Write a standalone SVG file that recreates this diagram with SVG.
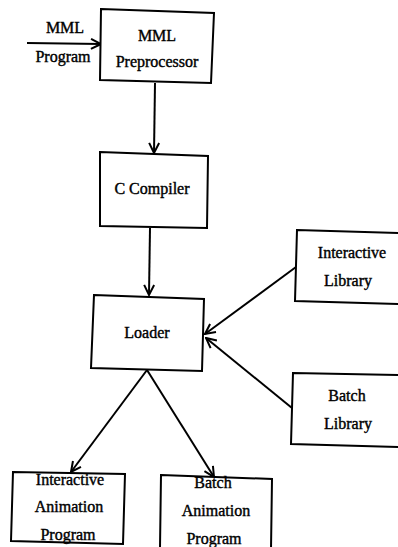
<svg xmlns="http://www.w3.org/2000/svg" width="398" height="547" viewBox="0 0 398 547">
<style>
.box{fill:#fff;stroke:#000;stroke-width:2}
.t{font-family:"Liberation Serif","Times New Roman",serif;font-size:16px;fill:#000;stroke:#000;stroke-width:0.4;text-anchor:middle}
.c{stroke:#000;stroke-width:2;fill:none;marker-end:url(#ah)}
</style>
<defs>
<marker id="ah" viewBox="0 0 12 12" refX="11" refY="6" markerWidth="12" markerHeight="12" markerUnits="userSpaceOnUse" orient="auto">
<path d="M1,1 L11,6 L1,11" fill="none" stroke="#000" stroke-width="2"/>
</marker>
</defs>
<rect width="398" height="547" fill="#fff"/>
<g id="connectors">
<line class="c" x1="27" y1="43" x2="101" y2="44"/>
<line class="c" x1="155" y1="83" x2="154" y2="153"/>
<line class="c" x1="150" y1="228" x2="149" y2="295"/>
<line class="c" x1="296" y1="267" x2="205" y2="334"/>
<line class="c" x1="292" y1="408" x2="206" y2="338"/>
<line class="c" x1="147" y1="370" x2="71" y2="472"/>
<line class="c" x1="147" y1="370" x2="214" y2="477"/>
</g>
<g id="input-label">
<text class="t" x="65" y="33">MML</text>
<text class="t" x="63" y="62">Program</text>
</g>
<g id="mml-preprocessor">
<polygon class="box" points="101,9 214,13 211,83 100,80"/>
<text class="t" x="157" y="41">MML</text>
<text class="t" x="157" y="67">Preprocessor</text>
</g>
<g id="c-compiler">
<polygon class="box" points="100,152 208,156 207,228 100,226"/>
<text class="t" x="152" y="194">C Compiler</text>
</g>
<g id="loader">
<polygon class="box" points="94,295 204,299 202,371 91,368"/>
<text class="t" x="147" y="338">Loader</text>
</g>
<g id="interactive-library">
<polygon class="box" points="297,230 400,233 400,304 295,301"/>
<text class="t" x="352" y="258">Interactive</text>
<text class="t" x="348" y="286">Library</text>
</g>
<g id="batch-library">
<polygon class="box" points="293,373 400,375 400,447 291,444"/>
<text class="t" x="347" y="401">Batch</text>
<text class="t" x="348" y="429">Library</text>
</g>
<g id="interactive-animation">
<polygon class="box" points="13,472 125,474 123,544 11,541"/>
<text class="t" x="70" y="485">Interactive</text>
<text class="t" x="69" y="512">Animation</text>
<text class="t" x="68" y="540">Program</text>
</g>
<g id="batch-animation">
<polygon class="box" points="161,475 272,479 271,550 160,548"/>
<text class="t" x="213" y="488">Batch</text>
<text class="t" x="216" y="516">Animation</text>
<text class="t" x="214" y="544">Program</text>
</g>
</svg>
